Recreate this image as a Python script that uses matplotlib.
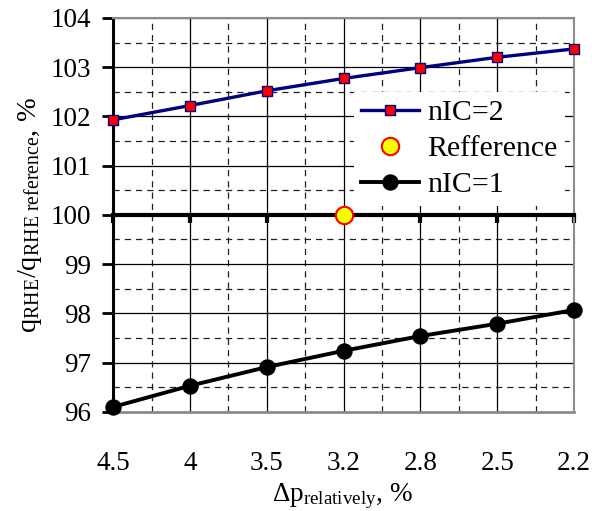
import numpy as np
import matplotlib
matplotlib.use("Agg")
import matplotlib.pyplot as plt
import matplotlib.transforms as mtransforms

plt.rcParams['font.family'] = ['Liberation Serif', 'DejaVu Serif']
plt.rcParams['mathtext.fontset'] = 'custom'
plt.rcParams['mathtext.rm'] = 'Liberation Serif'
plt.rcParams['mathtext.it'] = 'Liberation Serif:italic'

# relative pressure drop, %
dp_labels = ["4.5", "4", "3.5", "3.2", "2.8", "2.5", "2.2"]
nic2 = [101.93, 102.22, 102.52, 102.77, 102.99, 103.20, 103.37]
nic1 = [96.10, 96.53, 96.91, 97.24, 97.54, 97.79, 98.07]
ref_label = "3.2"
ref_value = 100.0

x = np.arange(len(dp_labels))

fig = plt.figure(figsize=(6.05, 5.11), dpi=100)
ax = fig.add_axes([0.187, 0.194, 0.762, 0.771])

ax.set_xlim(0, len(dp_labels) - 1)
ax.set_ylim(96, 104)

# grid: solid on whole units / categories, dashed in between
ax.set_xticks(x)
ax.set_xticks(x[:-1] + 0.5, minor=True)
ax.set_yticks(np.arange(96, 105, 1))
ax.set_yticks(np.arange(96.5, 104, 1), minor=True)
ax.grid(True, which='major', color='black', lw=0.9)
ax.grid(True, which='minor', color='#202020', lw=0.9, ls=(0, (5, 4)))
ax.set_axisbelow(True)

for s in ['top', 'right']:
    ax.spines[s].set_color('#8c8c8c')
    ax.spines[s].set_linewidth(1.5)
ax.spines['left'].set_color('black')
ax.spines['left'].set_linewidth(2.2)
# category axis crosses at 100
ax.spines['bottom'].set_position(('data', 100))
ax.spines['bottom'].set_linewidth(3)
ax.spines['bottom'].set_zorder(3)
ax.axhline(96, color='#8c8c8c', lw=2, clip_on=False, zorder=1)

ax.tick_params(axis='y', which='major', direction='out', length=8, width=2,
               labelsize=19.5, pad=8)
ax.tick_params(axis='x', which='major', direction='out', length=6, width=3,
               labelbottom=False)
ax.tick_params(which='minor', length=0)

# category labels sit below the plot area
trans = mtransforms.blended_transform_factory(ax.transData, ax.transAxes)
for i, lab in enumerate(dp_labels):
    ax.text(i, -0.132, lab, transform=trans, ha='center', va='center',
            fontsize=19.5)

ax.plot(x, nic2, color='#000080', lw=2.4, marker='s', ms=6.8,
        mfc='red', mec='#000080', mew=1, clip_on=False, zorder=4,
        label='nIC=2')
ax.plot([dp_labels.index(ref_label)], [ref_value], ls='none', marker='o',
        ms=12.5, mfc='yellow', mec='red', mew=1.5, clip_on=False, zorder=5,
        label='Refference')
ax.plot(x, nic1, color='black', lw=2.8, marker='o', ms=10.8,
        clip_on=False, zorder=4, label='nIC=1')

leg = ax.legend(loc='upper left', bbox_to_anchor=(0.522, 0.812), fontsize=21.5,
                frameon=True, fancybox=False, framealpha=1, edgecolor='white',
                handlelength=1.95, handletextpad=0.25, labelspacing=0.3,
                borderpad=0.25, borderaxespad=0)
leg.get_frame().set_linewidth(0)
leg.set_zorder(6)

ax.set_ylabel(r'$\mathregular{q_{RHE}/q_{RHE\ reference}}$, %', fontsize=20.5)
ax.yaxis.set_label_coords(-0.15, 0.5)
fig.text(0.566, 0.03, r'$\mathregular{\Delta p_{relatively}}$, %',
         ha='center', va='center', fontsize=19.5)

plt.savefig("out.png", dpi=100)
